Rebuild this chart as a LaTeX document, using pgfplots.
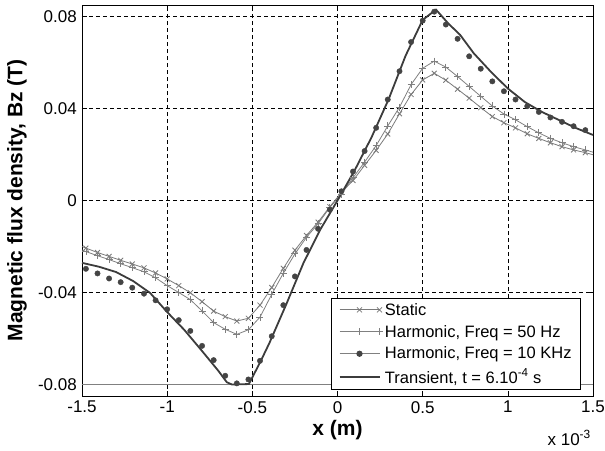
\documentclass[border=0pt]{standalone}
\usepackage{fontspec}
\setmainfont{Liberation Sans}
\usepackage{pgfplots}
\pgfplotsset{compat=1.18}
\usepackage{pgfplotstable}

\definecolor{statcol}{HTML}{7A7A7A}
\definecolor{harmcol}{HTML}{808080}
\definecolor{dotcol}{HTML}{444444}
\definecolor{trancol}{HTML}{3C3C3C}

\pgfplotsset{
  markleg/.style={legend image code/.code={\draw[##1, mark repeat=2, mark phase=2] plot coordinates {(0bp,0bp) (20bp,0bp) (40bp,0bp)};}},
  dotleg/.style={legend image code/.code={\draw[harmcol, line width=0.8bp] (0bp,0bp) -- (40bp,0bp); \fill[dotcol] (20bp,0bp) circle (2.7bp);}},
  lineleg/.style={legend image code/.code={\draw[trancol, line width=1.8bp] (0bp,0bp) -- (40bp,0bp);}},
}

\pgfplotstableread{
x y
-1.500 -0.0200
-1.477 -0.0207
-1.409 -0.0226
-1.341 -0.0243
-1.273 -0.0260
-1.205 -0.0276
-1.136 -0.0293
-1.068 -0.0315
-1.000 -0.0341
-0.932 -0.0370
-0.864 -0.0401
-0.795 -0.0440
-0.727 -0.0481
-0.659 -0.0505
-0.591 -0.0524
-0.523 -0.0512
-0.455 -0.0455
-0.386 -0.0378
-0.318 -0.0295
-0.250 -0.0216
-0.182 -0.0152
-0.114 -0.0094
-0.045 -0.0027
0.023 0.0035
0.091 0.0087
0.159 0.0153
0.227 0.0218
0.295 0.0289
0.364 0.0377
0.432 0.0461
0.500 0.0524
0.568 0.0553
0.636 0.0523
0.705 0.0484
0.773 0.0445
0.841 0.0404
0.909 0.0365
0.977 0.0338
1.045 0.0316
1.114 0.0290
1.182 0.0270
1.250 0.0251
1.318 0.0234
1.386 0.0220
1.455 0.0208
1.500 0.0199
}\staticdata

\pgfplotstableread{
x y
-1.500 -0.0215
-1.477 -0.0222
-1.409 -0.0240
-1.341 -0.0257
-1.273 -0.0275
-1.205 -0.0292
-1.136 -0.0310
-1.068 -0.0336
-1.000 -0.0370
-0.932 -0.0400
-0.864 -0.0431
-0.795 -0.0480
-0.727 -0.0531
-0.659 -0.0560
-0.591 -0.0582
-0.523 -0.0562
-0.455 -0.0507
-0.386 -0.0408
-0.318 -0.0316
-0.250 -0.0232
-0.182 -0.0160
-0.114 -0.0101
-0.045 -0.0030
0.023 0.0028
0.091 0.0099
0.159 0.0167
0.227 0.0239
0.295 0.0324
0.364 0.0406
0.432 0.0504
0.500 0.0575
0.568 0.0606
0.636 0.0580
0.705 0.0539
0.773 0.0496
0.841 0.0453
0.909 0.0411
0.977 0.0376
1.045 0.0351
1.114 0.0321
1.182 0.0294
1.250 0.0270
1.318 0.0251
1.386 0.0234
1.455 0.0220
1.500 0.0210
}\harmdata

\pgfplotstableread{
x y
-1.477 -0.0297
-1.409 -0.0317
-1.341 -0.0339
-1.273 -0.0355
-1.205 -0.0379
-1.136 -0.0405
-1.068 -0.0434
-1.000 -0.0473
-0.932 -0.0520
-0.864 -0.0567
-0.795 -0.0632
-0.727 -0.0694
-0.659 -0.0762
-0.591 -0.0795
-0.523 -0.0778
-0.455 -0.0697
-0.386 -0.0590
-0.318 -0.0455
-0.250 -0.0330
-0.182 -0.0215
-0.114 -0.0123
-0.045 -0.0040
0.023 0.0040
0.091 0.0126
0.159 0.0215
0.227 0.0316
0.295 0.0439
0.364 0.0562
0.432 0.0689
0.500 0.0782
0.568 0.0821
0.636 0.0765
0.705 0.0703
0.773 0.0627
0.841 0.0573
0.909 0.0518
0.977 0.0475
1.045 0.0439
1.114 0.0410
1.182 0.0385
1.250 0.0361
1.318 0.0342
1.386 0.0323
1.455 0.0306
}\hfdata

\pgfplotstableread{
x y
-1.50 -0.0271
-1.40 -0.0288
-1.30 -0.0311
-1.20 -0.0350
-1.10 -0.0402
-1.00 -0.0485
-0.90 -0.0562
-0.80 -0.0650
-0.70 -0.0740
-0.65 -0.0790
-0.62 -0.0800
-0.52 -0.0798
-0.45 -0.0697
-0.40 -0.0620
-0.30 -0.0450
-0.20 -0.0272
-0.10 -0.0125
0.00 0.0000
0.10 0.0130
0.20 0.0275
0.30 0.0440
0.40 0.0630
0.50 0.0785
0.578 0.0830
0.65 0.0770
0.72 0.0720
0.80 0.0640
0.90 0.0560
1.00 0.0487
1.10 0.0428
1.20 0.0385
1.30 0.0350
1.40 0.0315
1.50 0.0285
}\trandata

\begin{document}
\begin{tikzpicture}
\begin{axis}[
  name=ax,
  scale only axis, width=511bp, height=391bp,
  xmin=-1.5, xmax=1.5, ymin=-0.085, ymax=0.085,
  scaled x ticks=false, scaled y ticks=false,
  xtick={-1.5,-1,-0.5,0,0.5,1,1.5},
  xticklabels={-1.5,-1,-0.5,0,0.5,1,1.5},
  ytick={-0.08,-0.04,0,0.04,0.08},
  yticklabels={-0.08,-0.04,0,0.04,0.08},
  tick align=inside, tick pos=both, major tick length=5bp,
  grid=major,
  grid style={black, dash pattern=on 4bp off 3bp, line width=0.6bp},
  axis line style={black, line width=0.8bp},
  tick style={black, line width=0.6bp},
  ticklabel style={font=\fontsize{17bp}{19bp}\selectfont},
  xticklabel style={inner sep=2bp, yshift=-3bp},
  yticklabel style={inner sep=2bp, xshift=-3bp},
  xlabel={x (m)},
  ylabel={Magnetic flux density, Bz (T)},
  label style={font=\bfseries\fontsize{21bp}{24bp}\selectfont},
  xlabel style={at={([yshift=-34bp]axis description cs:0.5,0)}, anchor=center},
  ylabel style={at={([xshift=-65bp]axis description cs:0,0.5)}, anchor=center},
  legend style={at={(0.9765,0.0153)}, anchor=south east, draw=black,
    line width=0.8bp, fill=white,
    font=\fontsize{16.5bp}{19bp}\selectfont,
    cells={anchor=west}, row sep=4.5bp, inner xsep=7bp, inner ysep=3bp},
  clip=false,
]
\addplot[harmcol, line width=1bp, forget plot] coordinates {(-1.5,-0.08) (1.5,-0.08)};

\addplot[statcol, line width=0.8bp, mark=x, mark size=3.5bp,
  mark indices={2,...,45}, markleg]
  table[x=x, y=y] {\staticdata};
\addlegendentry{Static}

\addplot[harmcol, line width=0.8bp, mark=+, mark size=3.5bp,
  mark indices={2,...,45}, markleg]
  table[x=x, y=y] {\harmdata};
\addlegendentry{Harmonic, Freq = 50 Hz}

\addplot[dotcol, only marks, mark=*, mark size=2.7bp, dotleg]
  table[x=x, y=y] {\hfdata};
\addlegendentry{Harmonic, Freq = 10 KHz}

\addplot[trancol, line width=1.8bp, no marks, lineleg]
  table[x=x, y=y] {\trandata};
\addlegendentry{Transient, t = 6.10\textsuperscript{-4} s}

\node[anchor=base east, inner sep=0pt, font=\fontsize{17bp}{19bp}\selectfont]
  at ([yshift=-49bp,xshift=-2bp]rel axis cs:1,0) {x 10\textsuperscript{-3}};
\end{axis}
\pgfresetboundingbox
\path ([xshift=-82bp,yshift=-54bp]ax.south west) rectangle ([xshift=12bp,yshift=5bp]ax.north east);
\end{tikzpicture}
\end{document}
